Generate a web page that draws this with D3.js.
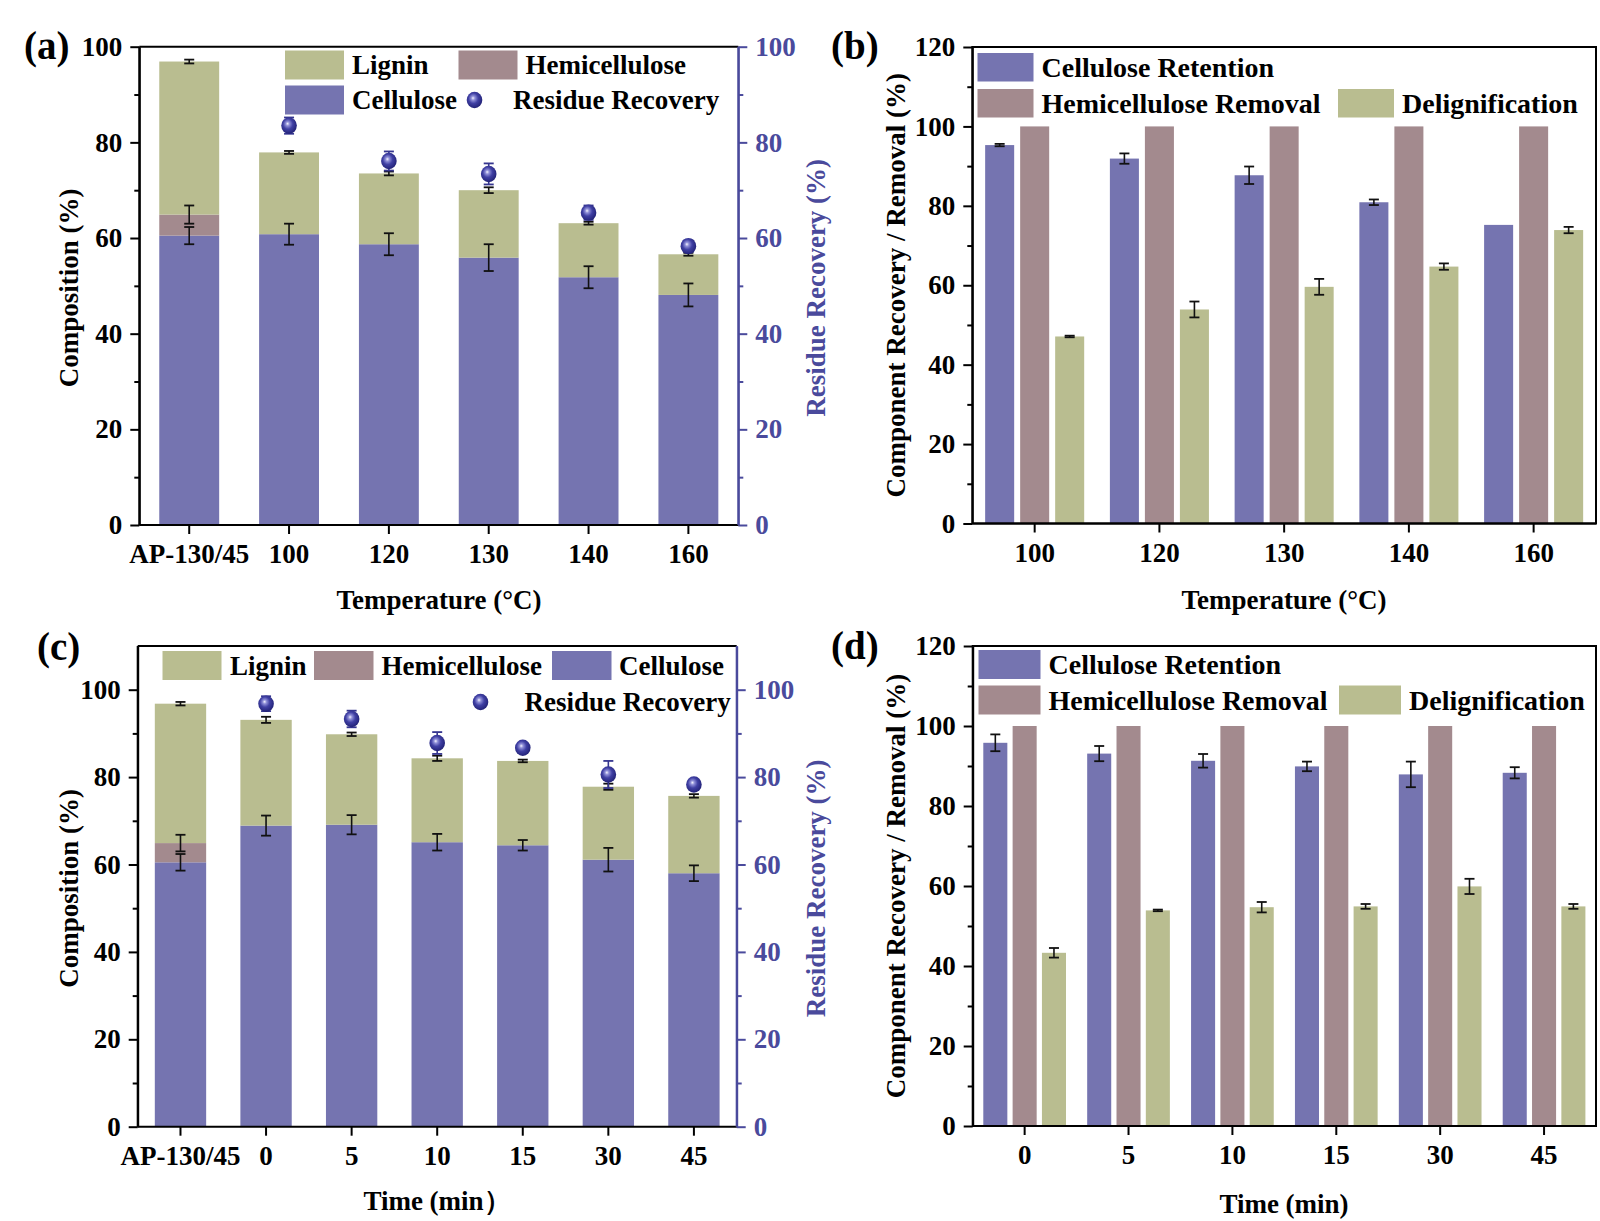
<!DOCTYPE html>
<html>
<head>
<meta charset="utf-8">
<script src="https://cdn.jsdelivr.net/npm/d3@7"></script>
<style>
  html, body { margin: 0; padding: 0; background: #fff; }
  svg text { font-family: "Liberation Serif", "Times New Roman", serif; font-weight: bold; }
</style>
</head>
<body>
<svg id="chart" width="1600" height="1221"></svg>
<script>
// ---------------- DATA ----------------
// Panel (a): composition vs temperature
const catsA = ["AP-130/45", "100", "120", "130", "140", "160"];
const celA = [60.5, 60.8, 58.7, 55.9, 51.8, 48.1];
const celErrA = [1.8, 2.2, 2.3, 2.8, 2.3, 2.4];
const hemiA = [4.4, 0, 0, 0, 0, 0];
const hemiErrA = [1.9, 0, 0, 0, 0, 0];
const ligA = [32.0, 17.1, 14.8, 14.1, 11.3, 8.5];
const ligErrA = [0.4, 0.3, 0.4, 0.6, 0.3, 0.3];
const resA = [null, 83.5, 76.1, 73.4, 65.3, 58.3];
const resErrA = [null, 1.7, 2.0, 2.2, 1.5, 1.2];

// Panel (b): component recovery / removal vs temperature
const catsB = ["100", "120", "130", "140", "160"];
const celRetB = [95.3, 91.9, 87.7, 80.9, 75.2];
const celRetErrB = [0.3, 1.3, 2.2, 0.7, 0];
const hemiRemB = [100, 100, 100, 100, 100];
const hemiRemErrB = [0, 0, 0, 0, 0];
const delignB = [47.1, 53.9, 59.6, 64.7, 73.9];
const delignErrB = [0.2, 2.0, 2.0, 0.8, 0.8];

// Panel (c): composition vs time
const catsC = ["AP-130/45", "0", "5", "10", "15", "30", "45"];
const celC = [60.5, 68.9, 69.1, 65.1, 64.4, 61.1, 58.0];
const celErrC = [1.9, 2.3, 2.2, 1.9, 1.2, 2.7, 1.8];
const hemiC = [4.4, 0, 0, 0, 0, 0, 0];
const hemiErrC = [1.9, 0, 0, 0, 0, 0, 0];
const ligC = [31.9, 24.2, 20.7, 19.2, 19.3, 16.7, 17.7];
const ligErrC = [0.4, 0.7, 0.4, 0.6, 0.3, 0.7, 0.4];
const resC = [null, 96.8, 93.3, 87.8, 86.7, 80.6, 78.3];
const resErrC = [null, 1.7, 1.9, 2.5, 0.9, 3.1, 0.9];

// Panel (d): component recovery / removal vs time
const catsD = ["0", "5", "10", "15", "30", "45"];
const celRetD = [95.8, 93.1, 91.3, 89.9, 87.9, 88.3];
const celRetErrD = [2.1, 1.9, 1.7, 1.2, 3.2, 1.4];
const hemiRemD = [100, 100, 100, 100, 100, 100];
const hemiRemErrD = [0, 0, 0, 0, 0, 0];
const delignD = [43.3, 53.9, 54.7, 54.9, 59.9, 54.9];
const delignErrD = [1.2, 0.2, 1.3, 0.6, 1.9, 0.6];

// Tick values
const ticks100 = [0, 20, 40, 60, 80, 100];
const minor100 = [10, 30, 50, 70, 90];
const minor110 = [10, 30, 50, 70, 90];
const ticks120 = [0, 20, 40, 60, 80, 100, 120];
const minor120 = [10, 30, 50, 70, 90, 110];

// ---------------- STYLE ----------------
const C_CEL = "#7574b0";
const C_HEMI = "#a38a8e";
const C_LIG = "#b9bd90";
const C_BLUE = "#4a4a9c";
const FS = 27;

const svg = d3.select("#chart");
const defs = svg.append("defs");
const grad = defs.append("radialGradient").attr("id", "sphere")
  .attr("cx", "45%").attr("cy", "42%").attr("r", "60%").attr("fx", "40%").attr("fy", "38%");
grad.append("stop").attr("offset", "0%").attr("stop-color", "#f4f4ff");
grad.append("stop").attr("offset", "20%").attr("stop-color", "#9090d8");
grad.append("stop").attr("offset", "52%").attr("stop-color", "#4040a4");
grad.append("stop").attr("offset", "100%").attr("stop-color", "#202074");

function errBar(g, x, yTop, yBot, color, cap) {
  g.append("line").attr("x1", x).attr("x2", x).attr("y1", yTop).attr("y2", yBot)
    .attr("stroke", color).attr("stroke-width", 1.6);
  [yTop, yBot].forEach(yy => g.append("line").attr("x1", x - cap / 2).attr("x2", x + cap / 2)
    .attr("y1", yy).attr("y2", yy).attr("stroke", color).attr("stroke-width", 1.8));
}

function styleAxis(ax, color) {
  ax.selectAll("path").attr("stroke", color).attr("stroke-width", 2);
  ax.selectAll("line").attr("stroke", color).attr("stroke-width", 2);
  ax.selectAll("text").attr("fill", color).style("font-size", FS + "px")
    .style("font-family", '"Liberation Serif", "Times New Roman", serif').style("font-weight", "bold");
}

function leftAxis(g, y, x0, ticks, minor, color, side) {
  const mk = side === "left" ? d3.axisLeft : d3.axisRight;
  const a1 = g.append("g").attr("transform", `translate(${x0},0)`)
    .call(mk(y).tickValues(ticks).tickSize(9).tickSizeOuter(0).tickPadding(8).tickFormat(d3.format("d")));
  styleAxis(a1, color);
  const a2 = g.append("g").attr("transform", `translate(${x0},0)`)
    .call(mk(y).tickValues(minor).tickSize(5).tickSizeOuter(0).tickFormat(""));
  styleAxis(a2, color);
  a2.select("path").remove();
}

function vText(g, x, y, txt, color) {
  g.append("text").attr("transform", `translate(${x},${y}) rotate(-90)`)
    .attr("text-anchor", "middle").attr("dominant-baseline", "central")
    .attr("fill", color).style("font-size", FS + "px").text(txt);
}

function legendRect(g, x, y, w, h, color, label, tx, fs) {
  g.append("rect").attr("x", x).attr("y", y).attr("width", w).attr("height", h).attr("fill", color);
  if (label) g.append("text").attr("x", tx).attr("y", y + h / 2).attr("dominant-baseline", "central")
    .style("font-size", fs + "px").attr("fill", "#000").text(label);
}

function sphere(g, cx, cy) {
  g.append("ellipse").attr("cx", cx).attr("cy", cy).attr("rx", 7.8).attr("ry", 8.2).attr("fill", "url(#sphere)");
}

// ---------------- STACKED PANEL ----------------
function stackedPanel(p) {
  const g = svg.append("g");
  const x = d3.scaleBand().domain(p.cats).range([p.l, p.r]).paddingInner(0.4).paddingOuter(0.2);
  const y = d3.scaleLinear().domain([0, p.ymax]).range([p.b, p.t]);
  const yR = d3.scaleLinear().domain([0, p.ymax]).range([p.b, p.t]);
  const rows = p.cats.map((c, i) => ({
    c, cel: p.cel[i], celE: p.celE[i], hemi: p.hemi[i], hemiE: p.hemiE[i],
    lig: p.lig[i], ligE: p.ligE[i], res: p.res[i], resE: p.resE[i]
  }));
  const bw = x.bandwidth();
  g.selectAll(".cel").data(rows).join("rect").attr("x", d => x(d.c)).attr("width", bw)
    .attr("y", d => y(d.cel)).attr("height", d => y(0) - y(d.cel)).attr("fill", C_CEL);
  g.selectAll(".hemi").data(rows.filter(d => d.hemi > 0)).join("rect").attr("x", d => x(d.c)).attr("width", bw)
    .attr("y", d => y(d.cel + d.hemi)).attr("height", d => y(d.cel) - y(d.cel + d.hemi)).attr("fill", C_HEMI);
  g.selectAll(".lig").data(rows).join("rect").attr("x", d => x(d.c)).attr("width", bw)
    .attr("y", d => y(d.cel + d.hemi + d.lig)).attr("height", d => y(d.cel + d.hemi) - y(d.cel + d.hemi + d.lig)).attr("fill", C_LIG);
  rows.forEach(d => {
    const cx = x(d.c) + bw / 2;
    errBar(g, cx, y(d.cel + d.celE), y(d.cel - d.celE), "#111", 10);
    if (d.hemi > 0) errBar(g, cx, y(d.cel + d.hemi + d.hemiE), y(d.cel + d.hemi - d.hemiE), "#111", 10);
    const tot = d.cel + d.hemi + d.lig;
    errBar(g, cx, y(tot + d.ligE), y(tot - d.ligE), "#111", 10);
  });
  rows.filter(d => d.res != null).forEach(d => {
    const cx = x(d.c) + bw / 2;
    errBar(g, cx, yR(d.res + d.resE), yR(d.res - d.resE), "#35358f", 10);
  });
  rows.filter(d => d.res != null).forEach(d => sphere(g, x(d.c) + bw / 2, yR(d.res)));
  leftAxis(g, y, p.l, ticks100, p.minor, "#000", "left");
  leftAxis(g, yR, p.r, ticks100, p.minor, C_BLUE, "right");
  const xa = g.append("g").attr("transform", `translate(0,${p.b})`)
    .call(d3.axisBottom(x).tickSize(9).tickSizeOuter(0).tickPadding(10));
  styleAxis(xa, "#000");
  xa.select("path").attr("d", `M${p.l},0H${p.r}`);
  g.append("line").attr("x1", p.l).attr("x2", p.r).attr("y1", p.t).attr("y2", p.t).attr("stroke", "#000").attr("stroke-width", 2);
  g.append("line").attr("x1", p.l).attr("x2", p.l).attr("y1", p.t).attr("y2", p.b).attr("stroke", "#000").attr("stroke-width", 2);
  g.append("line").attr("x1", p.r).attr("x2", p.r).attr("y1", p.t).attr("y2", p.b).attr("stroke", C_BLUE).attr("stroke-width", 2);
  vText(g, 69, (p.t + p.b) / 2 + 2, "Composition (%)", "#000");
  vText(g, 816, (p.t + p.b) / 2 + 2, "Residue Recovery (%)", C_BLUE);
  g.append("text").attr("x", p.xtX).attr("y", p.xtY).attr("text-anchor", "middle").attr("dominant-baseline", "central")
    .style("font-size", FS + "px").text(p.xtitle);
  g.append("text").attr("x", p.lbX).attr("y", p.lbY).style("font-size", "39px").text(p.label);
  p.legend(g);
}

// ---------------- GROUPED PANEL ----------------
function groupedPanel(p) {
  const g = svg.append("g");
  const x0 = d3.scaleBand().domain(p.cats).range([p.l, p.r]).paddingInner(p.pi).paddingOuter(p.pi / 2);
  const keys = ["cel", "hemi", "del"];
  const x1 = d3.scaleBand().domain(keys).range([0, x0.bandwidth()]).paddingInner(p.pin);
  const y = d3.scaleLinear().domain([0, 120]).range([p.b, p.t]);
  const colors = { cel: C_CEL, hemi: C_HEMI, del: C_LIG };
  const rows = p.cats.map((c, i) => ({
    c, vals: [
      { k: "cel", v: p.cel[i], e: p.celE[i] },
      { k: "hemi", v: p.hemi[i], e: p.hemiE[i] },
      { k: "del", v: p.del[i], e: p.delE[i] }
    ]
  }));
  const grp = g.selectAll(".grp").data(rows).join("g").attr("transform", d => `translate(${x0(d.c)},0)`);
  grp.selectAll("rect").data(d => d.vals).join("rect")
    .attr("x", d => x1(d.k)).attr("width", x1.bandwidth())
    .attr("y", d => y(d.v)).attr("height", d => y(0) - y(d.v)).attr("fill", d => colors[d.k]);
  rows.forEach(r => r.vals.forEach(d => {
    if (d.e > 0) errBar(g, x0(r.c) + x1(d.k) + x1.bandwidth() / 2, y(d.v + d.e), y(d.v - d.e), "#111", 10);
  }));
  leftAxis(g, y, p.l, ticks120, minor120, "#000", "left");
  const xa = g.append("g").attr("transform", `translate(0,${p.b})`)
    .call(d3.axisBottom(x0).tickSize(9).tickSizeOuter(0).tickPadding(10));
  styleAxis(xa, "#000");
  xa.select("path").attr("d", `M${p.l},0H${p.r}`);
  g.append("rect").attr("x", p.l).attr("y", p.t).attr("width", p.r - p.l).attr("height", p.b - p.t)
    .attr("fill", "none").attr("stroke", "#000").attr("stroke-width", 2);
  vText(g, 896, (p.t + p.b) / 2, "Component Recovery / Removal (%)", "#000");
  g.append("text").attr("x", p.xtX).attr("y", p.xtY).attr("text-anchor", "middle").attr("dominant-baseline", "central")
    .style("font-size", FS + "px").text(p.xtitle);
  g.append("text").attr("x", p.lbX).attr("y", p.lbY).style("font-size", "39px").text(p.label);
  const L = p.leg;
  legendRect(g, L.x, L.y1, L.w, L.h, C_CEL, "Cellulose Retention", L.x + L.w + 8, 28);
  legendRect(g, L.x, L.y2, L.w, L.h, C_HEMI, "Hemicellulose Removal", L.x + L.w + 8, 28);
  legendRect(g, L.x3, L.y2, L.w, L.h, C_LIG, "Delignification", L.x3 + L.w + 8, 28);
}

// ---------------- DRAW ----------------
stackedPanel({
  cats: catsA, cel: celA, celE: celErrA, hemi: hemiA, hemiE: hemiErrA, lig: ligA, ligE: ligErrA,
  res: resA, resE: resErrA, ymax: 100, minor: minor100,
  l: 139.3, r: 738.3, t: 46.7, b: 525,
  xtitle: "Temperature (°C)", xtX: 439, xtY: 600, label: "(a)", lbX: 24, lbY: 59,
  legend: g => {
    legendRect(g, 285, 50.5, 59, 29, C_LIG, "Lignin", 352, 27);
    legendRect(g, 458.5, 50.5, 59, 29, C_HEMI, "Hemicellulose", 525.5, 27);
    legendRect(g, 285, 85.5, 59, 29, C_CEL, "Cellulose", 352, 27);
    sphere(g, 474.5, 100);
    g.append("text").attr("x", 513).attr("y", 100).attr("dominant-baseline", "central")
      .style("font-size", "27px").text("Residue Recovery");
  }
});

groupedPanel({
  cats: catsB, cel: celRetB, celE: celRetErrB, hemi: hemiRemB, hemiE: hemiRemErrB, del: delignB, delE: delignErrB,
  l: 972.3, r: 1596, t: 47, b: 523.5, pi: 0.206, pin: 0.171,
  xtitle: "Temperature (°C)", xtX: 1284, xtY: 600, label: "(b)", lbX: 831, lbY: 59,
  leg: { x: 977.5, y1: 53, y2: 89, w: 56, h: 28.5, x3: 1338 }
});

stackedPanel({
  cats: catsC, cel: celC, celE: celErrC, hemi: hemiC, hemiE: hemiErrC, lig: ligC, ligE: ligErrC,
  res: resC, resE: resErrC, ymax: 110, minor: minor110,
  l: 137.7, r: 736.7, t: 646, b: 1126.7,
  xtitle: "Time (min）", xtX: 437, xtY: 1201, label: "(c)", lbX: 37, lbY: 660,
  legend: g => {
    legendRect(g, 162.5, 651, 59, 29, C_LIG, "Lignin", 230, 27);
    legendRect(g, 314, 651, 59.5, 29, C_HEMI, "Hemicellulose", 381.5, 27);
    legendRect(g, 552, 651, 59.5, 29, C_CEL, "Cellulose", 619, 27);
    sphere(g, 480.5, 702);
    g.append("text").attr("x", 524.5).attr("y", 702).attr("dominant-baseline", "central")
      .style("font-size", "27px").text("Residue Recovery");
  }
});

groupedPanel({
  cats: catsD, cel: celRetD, celE: celRetErrD, hemi: hemiRemD, hemiE: hemiRemErrD, del: delignD, delE: delignErrD,
  l: 972.7, r: 1596, t: 646, b: 1126, pi: 0.204, pin: 0.18,
  xtitle: "Time (min)", xtX: 1284, xtY: 1204, label: "(d)", lbX: 831, lbY: 659,
  leg: { x: 978.5, y1: 650, y2: 685.5, w: 62, h: 29, x3: 1339 }
});
</script>
</body>
</html>
